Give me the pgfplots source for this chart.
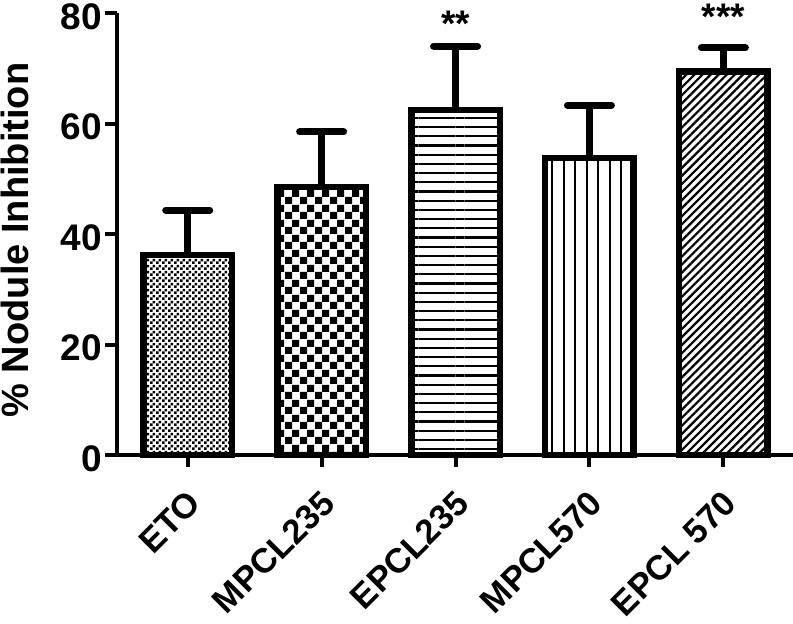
\documentclass[border=0pt]{standalone}
\usepackage{pgfplots}
\pgfplotsset{compat=1.18}
\usepackage{fontspec}
\setmainfont{Liberation Sans}
\usetikzlibrary{patterns.meta}

\tikzdeclarepattern{name=checkfine, type=uncolored,
  bottom left={(0,0)}, top right={(6bp,6bp)}, tile size={(6bp,6bp)},
  code={\fill (0,0) rectangle (3bp,3bp); \fill (3bp,3bp) rectangle (6bp,6bp);}}
\tikzdeclarepattern{name=checkcoarse, type=uncolored,
  bottom left={(0,0)}, top right={(15bp,15bp)}, tile size={(15bp,15bp)},
  code={\fill (0,0) rectangle (7.5bp,7.5bp); \fill (7.5bp,7.5bp) rectangle (15bp,15bp);}}

\newcommand{\bigfont}{\fontsize{37bp}{44bp}\selectfont\bfseries}

\begin{document}
\begin{tikzpicture}
\begin{axis}[
  scale only axis, width=675.7bp, height=442bp,
  xmin=-0.526, xmax=4.52, ymin=0, ymax=80,
  axis x line=bottom, axis y line=left,
  axis line style={line width=4bp, -},
  every tick/.style={line width=4bp, black},
  major tick length=12bp, tick align=outside,
  ytick={0,20,40,60,80},
  xtick={0,1,2,3,4},
  xticklabels={ETO, MPCL235, EPCL235, MPCL570, EPCL 570},
  tick label style={font=\bigfont},
  label style={font=\bigfont},
  /pgf/number format/assume math mode=true,
  xticklabel style={font=\fontsize{34.5bp}{40bp}\selectfont\bfseries, rotate=45, anchor=east, xshift=-13bp, yshift=-26bp},
  yticklabel style={yshift=-3.5bp},
  ylabel={\% Nodule Inhibition},
  ylabel style={font=\fontsize{38bp}{44bp}\selectfont\bfseries, xshift=-6bp, yshift=25bp},
  ybar, bar width=88.5bp, bar shift=0pt,
  clip=false,
  error bars/y dir=plus, error bars/y explicit,
  error bars/error bar style={line width=7bp, black},
  error bars/error mark options={rotate=90, line width=7bp, mark size=22bp, line cap=round, black},
]
\addplot[draw=black, line width=6.5bp, pattern=checkfine] coordinates {(0,36.2) +- (0,8.1)};
\addplot[draw=black, line width=6.5bp, pattern=checkcoarse] coordinates {(1,48.5) +- (0,10.0)};
\addplot[draw=black, line width=6.5bp, pattern={Lines[angle=0, distance=9.2bp, line width=2.2bp]}] coordinates {(2,62.4) +- (0,11.6)};
\addplot[draw=black, line width=6.5bp, pattern={Lines[angle=90, distance=11.5bp, line width=2bp]}] coordinates {(3,53.8) +- (0,9.5)};
\addplot[draw=black, line width=6.5bp, pattern={Lines[angle=45, distance=5.7bp, line width=2.2bp]}] coordinates {(4,69.4) +- (0,4.3)};
\node[font=\bigfont, anchor=base, inner sep=0pt] at (axis cs:2,75.8) {**};
\node[font=\bigfont, anchor=base, inner sep=0pt] at (axis cs:4,77.1) {***};
\end{axis}
\pgfresetboundingbox
\path (current axis.south west) ++(-117.3bp,-169bp) rectangle ++(793bp,624bp);
\end{tikzpicture}
\end{document}
